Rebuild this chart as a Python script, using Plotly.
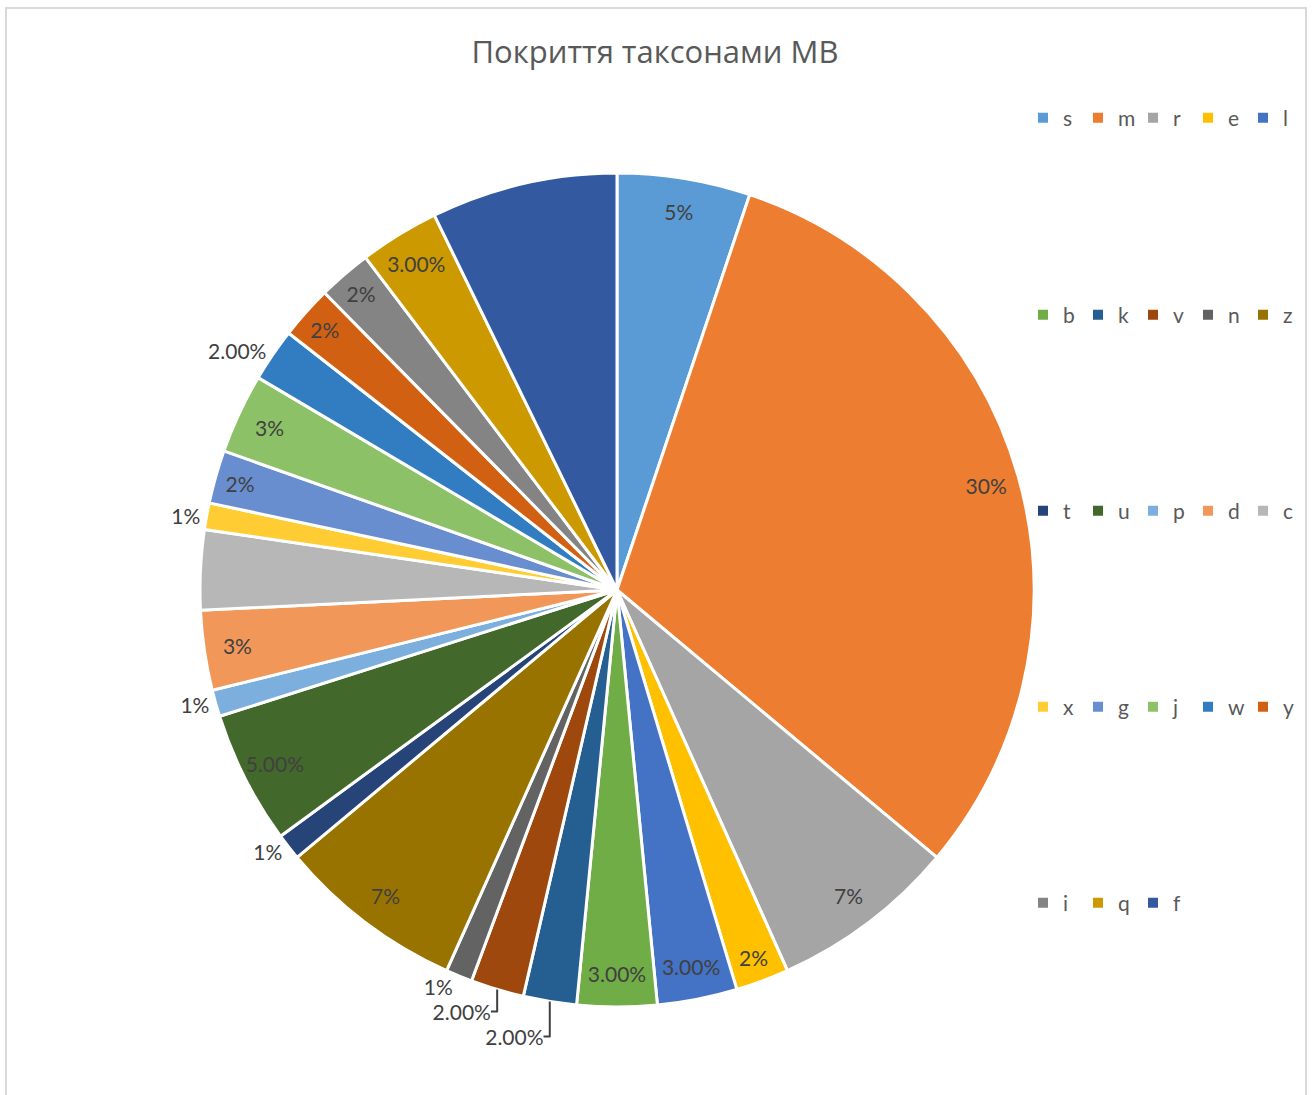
import plotly.graph_objects as go

# ---- data ----
labels = ["s", "m", "r", "e", "l", "b", "k", "v", "n", "z", "t", "u",
          "p", "d", "c", "x", "g", "j", "w", "y", "i", "q", "f"]
values = [0.05, 0.30, 0.07, 0.02, 0.03, 0.03, 0.02, 0.02, 0.01, 0.07, 0.01, 0.05,
          0.01, 0.03, 0.03, 0.01, 0.02, 0.03, 0.02, 0.02, 0.02, 0.03, 0.07]
label_text = ["5%", "30%", "7%", "2%", "3.00%", "3.00%", "2.00%", "2.00%", "1%", "7%", "1%", "5.00%",
              "1%", "3%", "", "1%", "2%", "3%", "2.00%", "2%", "2%", "3.00%", ""]
label_pos = ["inside", "inside", "inside", "inside", "inside", "inside", "outside", "outside",
             "outside", "inside", "outside", "inside", "outside", "inside", "none", "outside",
             "inside", "inside", "outside", "inside", "inside", "inside", "none"]
colors = ["#5B9BD5", "#ED7D31", "#A5A5A5", "#FFC000", "#4472C4", "#70AD47",
          "#255E91", "#9E480E", "#636363", "#997300", "#264478", "#43682B",
          "#7CAFDD", "#F1975A", "#B7B7B7", "#FFCD33", "#698ED0", "#8CC168",
          "#327DC2", "#D26012", "#848484", "#CC9A00", "#335AA1"]
title_text = "Покриття таксонами МВ"

W, H = 1313, 1095
FONT = "Lato, 'Open Sans', sans-serif"
TITLE_FONT = "'Open Sans', sans-serif"
cx, cy, R = 617, 590, 417
dom_x = [(cx - R) / W, (cx + R) / W]
dom_y = [(H - cy - R) / H, (H - cy + R) / H]

fig = go.Figure()

# main pie (slices)
fig.add_trace(go.Pie(
    labels=labels, values=values, sort=False, direction="clockwise", rotation=0,
    marker=dict(colors=colors, line=dict(color="white", width=3)),
    textinfo="none", showlegend=False, domain=dict(x=dom_x, y=dom_y),
    hovertemplate="%{label}: %{value}<extra></extra>",
))

# label ring (transparent) so that data labels sit near the outer edge
fig.add_trace(go.Pie(
    labels=labels, values=values, sort=False, direction="clockwise", rotation=0,
    hole=0.84,
    marker=dict(colors=["rgba(0,0,0,0)"] * len(labels), line=dict(width=0)),
    text=label_text, texttemplate="%{text}", textposition=label_pos,
    insidetextorientation="horizontal",
    textfont=dict(family=FONT, size=21, color="#404040"),
    outsidetextfont=dict(family=FONT, size=21, color="#404040"),
    showlegend=False, hoverinfo="skip", domain=dict(x=dom_x, y=dom_y),
))

# legend rows (5 per row)
row_y = [118, 315, 511, 707, 903]
per_row = 5
for i, (lab, col) in enumerate(zip(labels, colors)):
    row = i // per_row
    lg = "legend" if row == 0 else f"legend{row + 1}"
    fig.add_trace(go.Scatter(
        x=[None], y=[None], mode="markers", name=lab,
        marker=dict(symbol="square", size=10, color=col),
        legend=lg, showlegend=True, hoverinfo="skip",
    ))

legend_x = (1043 - 20) / W
layout_legends = {}
for r, py in enumerate(row_y):
    key = "legend" if r == 0 else f"legend{r + 1}"
    layout_legends[key] = dict(
        orientation="h", x=legend_x, xanchor="left", y=1 - py / H, yanchor="middle",
        entrywidth=10, entrywidthmode="pixels",
        font=dict(family=FONT, size=21, color="#595959"),
        bgcolor="rgba(0,0,0,0)", borderwidth=0,
    )

fig.update_layout(
    width=W, height=H,
    margin=dict(l=0, r=0, t=0, b=0, autoexpand=False),
    paper_bgcolor="white", plot_bgcolor="white",
    title=dict(text=title_text, x=655 / W, xanchor="center", y=1 - 52 / H, yanchor="middle",
               font=dict(family=TITLE_FONT, size=31, color="#595959")),
    xaxis=dict(visible=False), yaxis=dict(visible=False),
    shapes=[dict(type="rect", xref="paper", yref="paper",
                 x0=6 / W, x1=1306 / W, y0=-0.02, y1=1 - 8 / H,
                 line=dict(color="#D9D9D9", width=2), fillcolor="rgba(0,0,0,0)", layer="below")],
    **layout_legends,
)

fig.write_html("out.html")
